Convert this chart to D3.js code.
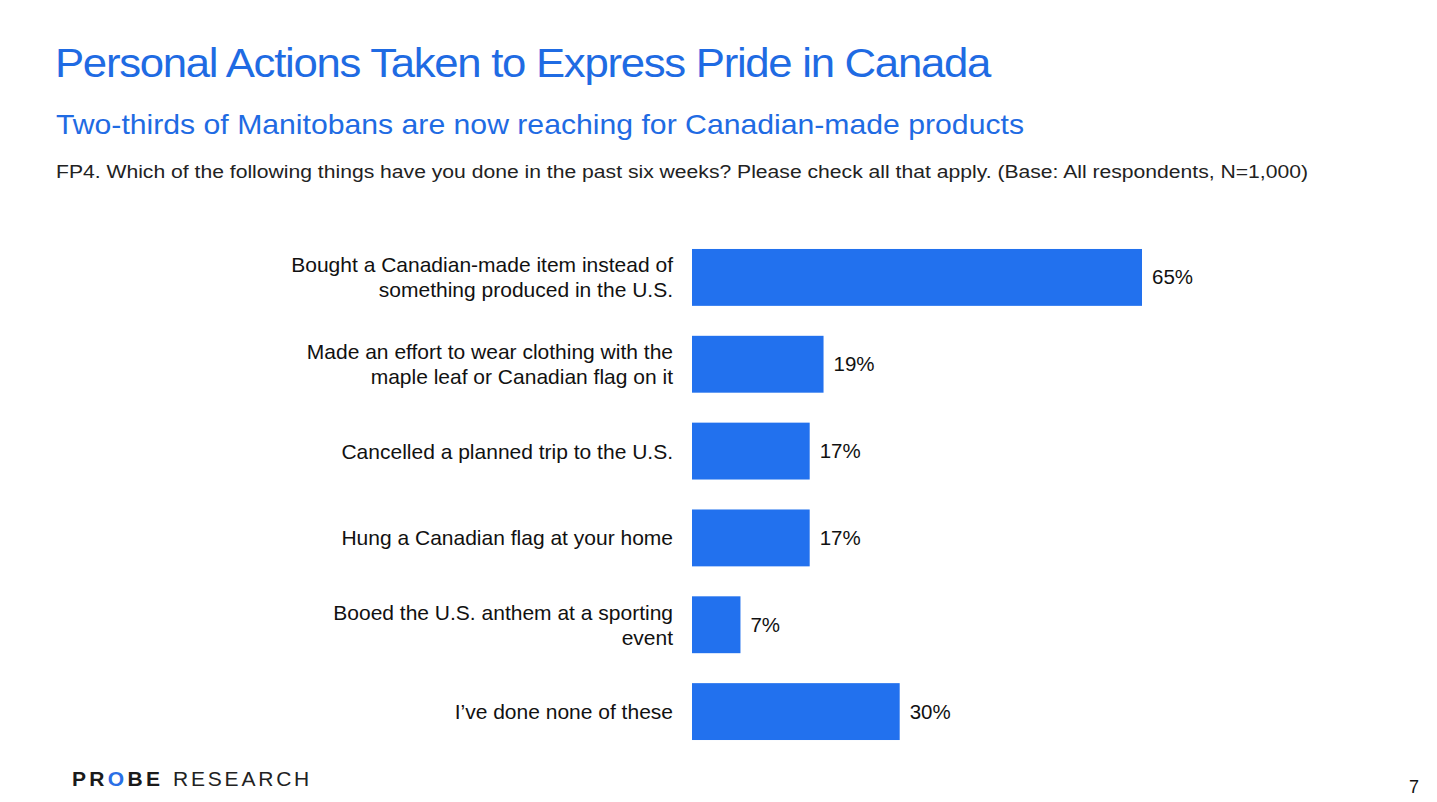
<!DOCTYPE html>
<html><head><meta charset="utf-8">
<script src="https://cdn.jsdelivr.net/npm/d3@7"></script>
<style>body{margin:0;background:#fff}svg{display:block}</style>
</head><body>
<script>
const categories = [
  ["Bought a Canadian-made item instead of", "something produced in the U.S."],
  ["Made an effort to wear clothing with the", "maple leaf or Canadian flag on it"],
  ["Cancelled a planned trip to the U.S."],
  ["Hung a Canadian flag at your home"],
  ["Booed the U.S. anthem at a sporting", "event"],
  ["I\u2019ve done none of these"]
];
const values = [65, 19, 17, 17, 7, 30];
const valueLabels = ["65%", "19%", "17%", "17%", "7%", "30%"];
const title = "Personal Actions Taken to Express Pride in Canada";
const subtitle = "Two-thirds of Manitobans are now reaching for Canadian-made products";
const question = "FP4. Which of the following things have you done in the past six weeks? Please check all that apply. (Base: All respondents, N=1,000)";

const W = 1437, H = 802;
const blue = "#2271EE";
const svg = d3.select("body").append("svg").attr("width", W).attr("height", H);
const font = "Liberation Sans, Arial, sans-serif";

svg.append("text").attr("x", 55).attr("y", 77).attr("font-family", font)
  .attr("font-size", 41).attr("fill", "#1F6BE3").attr("letter-spacing", -1.2)
  .attr("textLength", 935).attr("lengthAdjust", "spacingAndGlyphs").text(title);
svg.append("text").attr("x", 56).attr("y", 134).attr("font-family", font)
  .attr("font-size", 28).attr("fill", "#1F6BE3")
  .attr("textLength", 968).attr("lengthAdjust", "spacingAndGlyphs").text(subtitle);
svg.append("text").attr("x", 56).attr("y", 178).attr("font-family", font)
  .attr("font-size", 17.5).attr("fill", "#222")
  .attr("textLength", 1252).attr("lengthAdjust", "spacingAndGlyphs").text(question);

const x = d3.scaleLinear().domain([0, 65]).range([692, 1142]);
const y = d3.scaleBand().domain(d3.range(values.length)).range([234, 755])
  .paddingInner(0.345).paddingOuter(0.1725);

const g = svg.append("g");
g.selectAll("rect").data(values).join("rect")
  .attr("x", x(0)).attr("y", (d, i) => y(i))
  .attr("width", d => x(d) - x(0)).attr("height", y.bandwidth())
  .attr("fill", blue);

g.selectAll("text.val").data(values).join("text").attr("class", "val")
  .attr("x", d => x(d) + 10).attr("y", (d, i) => y(i) + y.bandwidth() / 2 + 7)
  .attr("font-family", font).attr("font-size", 20.5).attr("fill", "#111")
  .text((d, i) => valueLabels[i]);

categories.forEach((lines, i) => {
  const cy = y(i) + y.bandwidth() / 2;
  const lh = 25;
  const t = g.append("text").attr("text-anchor", "end").attr("font-family", font)
    .attr("font-size", 21).attr("fill", "#111");
  lines.forEach((ln, k) => {
    t.append("tspan").attr("x", 673)
      .attr("y", cy + 7.5 + (k - (lines.length - 1) / 2) * lh).text(ln);
  });
});

// logo
const logo = svg.append("g");
const probe = logo.append("text").attr("x", 72).attr("y", 786).attr("font-family", font)
  .attr("font-size", 21).attr("font-weight", "bold").attr("fill", "#1a1a1a").attr("letter-spacing", 3.3);
probe.append("tspan").text("PR");
probe.append("tspan").attr("fill", "#2a6fe6").text("O");
probe.append("tspan").text("BE");
logo.append("text").attr("x", 173).attr("y", 786).attr("font-family", font)
  .attr("font-size", 21).attr("fill", "#222").attr("letter-spacing", 2.8).text("RESEARCH");

svg.append("text").attr("x", 1414).attr("y", 793).attr("text-anchor", "middle")
  .attr("font-family", font).attr("font-size", 18).attr("fill", "#111").text("7");
</script>
</body></html>
